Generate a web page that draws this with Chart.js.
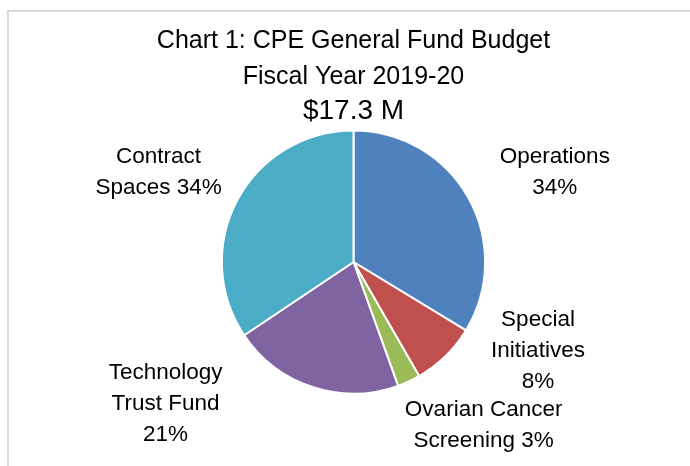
<!DOCTYPE html>
<html>
<head>
<meta charset="utf-8">
<script src="https://cdn.jsdelivr.net/npm/chart.js@4/dist/chart.umd.min.js"></script>
<style>
  html, body { margin: 0; padding: 0; background: #ffffff; }
  #wrap { position: relative; width: 690px; height: 466px; overflow: hidden; }
  #frame { position: absolute; left: 7px; top: 10px; width: 720px; height: 500px;
           border-left: 2px solid #d9d9d9; border-top: 2px solid #d9d9d9; }
  canvas { position: absolute; left: 0; top: 0; }
</style>
</head>
<body>
<div id="wrap">
  <div id="frame"></div>
  <canvas id="c" width="690" height="466"></canvas>
</div>
<script>
// ---- data ----
const categories = ["Operations", "Special Initiatives", "Ovarian Cancer Screening", "Technology Trust Fund", "Contract Spaces"];
const shares = [33.7, 8.0, 2.8, 21.1, 34.4];
const labelLines = [
  ["Operations", "{p}"],
  ["Special", "Initiatives", "{p}"],
  ["Ovarian Cancer", "Screening {p}"],
  ["Technology", "Trust Fund", "{p}"],
  ["Contract", "Spaces {p}"]
];
const titleLines = ["Chart 1: CPE General Fund Budget", "Fiscal Year 2019-20"];
const subtitleText = "$17.3 M";

// ---- style / layout ----
const colors = ["#4F81BD", "#C0504D", "#9BBB59", "#8064A2", "#4BACC6"];
const labelOffsets = [ // in units of pie radius, relative to pie centre
  [1.530, -0.680],
  [1.402, 0.676],
  [0.989, 1.240],
  [-1.428, 1.078],
  [-1.481, -0.685]
];
const FONT = "'Liberation Sans', Arial, sans-serif";

const labelPlugin = {
  id: 'sliceLabels',
  afterDatasetsDraw(chart) {
    const ctx = chart.ctx;
    const meta = chart.getDatasetMeta(0);
    const data = chart.data.datasets[0].data;
    const total = data.reduce((a, b) => a + b, 0);
    ctx.save();
    ctx.font = "22.5px " + FONT;
    ctx.fillStyle = "#000000";
    ctx.textAlign = "center";
    ctx.textBaseline = "middle";
    const lh = 31;
    meta.data.forEach((arc, i) => {
      const R = arc.outerRadius;
      const cx = arc.x + labelOffsets[i][0] * R;
      const cy = arc.y + labelOffsets[i][1] * R;
      const pct = Math.round(data[i] / total * 100) + "%";
      const lines = labelLines[i].map(s => s.replace("{p}", pct));
      const y0 = cy - (lines.length - 1) * lh / 2;
      lines.forEach((t, k) => ctx.fillText(t, cx, y0 + k * lh));
    });
    ctx.restore();
  }
};

new Chart(document.getElementById('c'), {
  type: 'pie',
  data: {
    labels: categories,
    datasets: [{
      data: shares,
      backgroundColor: colors,
      borderColor: "#ffffff",
      borderWidth: 2
    }]
  },
  options: {
    responsive: false,
    animation: false,
    devicePixelRatio: 1,
    layout: { padding: { left: 17, right: 0, top: 0, bottom: 71.4 } },
    plugins: {
      legend: { display: false },
      tooltip: { enabled: false },
      title: {
        display: true,
        text: titleLines,
        color: "#000000",
        font: { family: FONT, size: 25, weight: 'normal', lineHeight: 36 / 25 },
        padding: { top: 22.8, bottom: 0 }
      },
      subtitle: {
        display: true,
        text: subtitleText,
        color: "#000000",
        font: { family: FONT, size: 28, weight: 'normal', lineHeight: 1.2 },
        padding: { top: 0, bottom: 1 }
      }
    }
  },
  plugins: [labelPlugin]
});
</script>
</body>
</html>
